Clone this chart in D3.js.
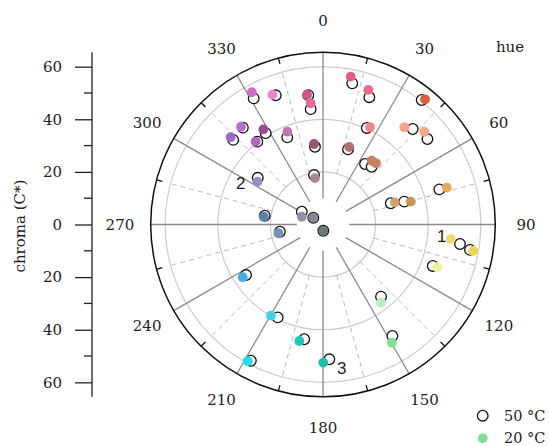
<!DOCTYPE html>
<html>
<head>
<meta charset="utf-8">
<script src="https://cdn.jsdelivr.net/npm/d3@7"></script>
<style>
  body { margin: 0; background: #fff; }
  svg { display: block; }
  text { font-family: "DejaVu Serif", serif; fill: #222; }
</style>
</head>
<body>
<svg id="chart" width="549" height="446"></svg>
<script>
// 20 °C (filled) and 50 °C (open) measurements, hue in degrees, chroma C*
var hue20    = [331.7, 338.7, 353.0, 354.2, 320.0, 313.4, 327.9, 320.9, 339.0, 353.6, 350.2, 303.1,
                10.6, 18.6, 39.2, 25.8, 39.9, 47.5, 18.7, 37.4, 40.9, 73.4, 72.9, 75.4,
                96.5, 100.0, 110.5, 277.5, 258.9, 290.1, 305.0, 177.0, 236.7, 209.7, 191.5, 208.9,
                179.9, 143.4, 149.8];
var chroma20 = [57.1, 53.0, 49.7, 46.3, 48.5, 48.3, 42.7, 40.6, 37.8, 30.8, 17.9, 29.8,
                57.2, 54.0, 61.4, 41.1, 48.2, 52.2, 31.1, 30.5, 30.8, 49.1, 28.6, 34.5,
                48.9, 58.0, 46.4, 22.7, 17.3, 8.6, 4.5, 2.4, 36.5, 39.9, 45.2, 59.3,
                52.5, 37.0, 52.0];
var hue50    = [331.2, 339.9, 353.5, 353.9, 320.4, 313.3, 327.9, 321.6, 337.7, 354.1, 349.7, 305.6,
                11.7, 20.0, 38.4, 24.4, 43.2, 50.7, 18.4, 34.8, 40.1, 73.2, 72.6, 74.3,
                98.1, 99.8, 110.7, 278.6, 260.5, 301.0, 305.0, 177.0, 236.7, 206.0, 189.3, 207.9,
                177.3, 141.2, 148.1];
var chroma50 = [54.7, 52.3, 49.5, 44.1, 47.8, 46.9, 41.0, 40.2, 35.8, 29.7, 19.1, 30.5,
                54.8, 51.5, 60.4, 40.3, 49.8, 51.3, 30.1, 28.0, 28.7, 46.2, 27.0, 32.1,
                52.6, 56.7, 44.6, 22.4, 16.6, 9.4, 4.5, 2.4, 35.0, 39.3, 44.2, 58.6,
                51.3, 35.2, 49.9];
var fills    = ["#cc6ec4", "#ec84d4", "#c8588a", "#e06c9c", "#b070cc", "#9a6ad0", "#9a4a94", "#b068bc",
                "#c474b0", "#9c5274", "#a88898", "#9a8cc8", "#e8588a", "#f06884", "#d8603c", "#e8888c",
                "#f8a284", "#f8a884", "#b86e72", "#c48068", "#c88460", "#e8a858", "#d0a070", "#c8955c",
                "#f0d878", "#e8d458", "#f0f0a0", "#5f7fa8", "#7494b4", "#9090a8", "#888890", "#6e7876",
                "#40b0e0", "#40d4e8", "#20c8b8", "#20e0f0", "#20c0a8", "#b8f0b8", "#80e098"];

var hueTicks    = d3.range(0, 360, 30);
var hueMinor    = d3.range(15, 360, 30);
var chromaRings = [20, 40, 60];
var chromaTicks = [-60, -40, -20, 0, 20, 40, 60];
var chromaMinor = [-50, -30, -10, 10, 30, 50];

var annotText   = ["1", "2", "3"];
var annotHue    = [95.9, 296.6, 172.6];
var annotChroma = [45.4, 35.0, 55.1];

var legendLabels = ["50 °C", "20 °C"];

var svg = d3.select("#chart");
var cx = 323, cy = 224.5, maxC = 65.5;

var r = d3.scaleLinear().domain([0, maxC]).range([0, 172.3]);
var rad = function(h) { return h * Math.PI / 180; };
function pos(h, c) {
  var p = d3.pointRadial(rad(h), r(c));
  return [cx + p[0], cy + p[1]];
}

var polar = svg.append("g");

// grey rings
polar.selectAll(".ring")
  .data(chromaRings)
  .enter().append("circle")
    .attr("cx", cx).attr("cy", cy)
    .attr("r", function(d) { return r(d); })
    .attr("fill", "none")
    .attr("stroke", "#cccccc")
    .attr("stroke-width", 1.2);

// dashed spokes between the main ones
polar.selectAll(".dash")
  .data(hueMinor)
  .enter().append("line")
    .attr("x1", function(d) { return pos(d, 20)[0]; })
    .attr("y1", function(d) { return pos(d, 20)[1]; })
    .attr("x2", function(d) { return pos(d, 60)[0]; })
    .attr("y2", function(d) { return pos(d, 60)[1]; })
    .attr("stroke", "#bbbbbb")
    .attr("stroke-width", 1)
    .attr("stroke-dasharray", "5,4");

// solid spokes every 30 degrees
polar.selectAll(".spoke")
  .data(hueTicks)
  .enter().append("line")
    .attr("x1", function(d) { return pos(d, 10)[0]; })
    .attr("y1", function(d) { return pos(d, 10)[1]; })
    .attr("x2", function(d) { return pos(d, maxC)[0]; })
    .attr("y2", function(d) { return pos(d, maxC)[1]; })
    .attr("stroke", "#8a8a8a")
    .attr("stroke-width", 1.3);

// outer circle with small ticks
polar.append("circle")
  .attr("cx", cx).attr("cy", cy)
  .attr("r", r(maxC))
  .attr("fill", "none")
  .attr("stroke", "#111")
  .attr("stroke-width", 1.5);

polar.selectAll(".otick")
  .data(hueMinor)
  .enter().append("line")
    .attr("x1", function(d) { return pos(d, maxC - 2.3)[0]; })
    .attr("y1", function(d) { return pos(d, maxC - 2.3)[1]; })
    .attr("x2", function(d) { return pos(d, maxC)[0]; })
    .attr("y2", function(d) { return pos(d, maxC)[1]; })
    .attr("stroke", "#111")
    .attr("stroke-width", 1.3);

// hue labels
polar.selectAll(".hlab")
  .data(hueTicks)
  .enter().append("text")
    .attr("x", function(d) { return pos(d, 77.2)[0]; })
    .attr("y", function(d) { return pos(d, 77.2)[1]; })
    .attr("text-anchor", "middle")
    .attr("dominant-baseline", "central")
    .style("font-size", "15px")
    .text(function(d) { return d; });

svg.append("text")
  .attr("x", 510).attr("y", 52)
  .attr("text-anchor", "middle")
  .style("font-size", "15px")
  .text("hue");

// points: open circles (50 °C) under filled (20 °C)
var idx = d3.range(hue20.length);

polar.selectAll(".p50")
  .data(idx)
  .enter().append("circle")
    .attr("cx", function(i) { return pos(hue50[i], chroma50[i])[0]; })
    .attr("cy", function(i) { return pos(hue50[i], chroma50[i])[1]; })
    .attr("r", 5.3)
    .attr("fill", "#fff")
    .attr("stroke", "#111")
    .attr("stroke-width", 1.3);

polar.selectAll(".p20")
  .data(idx)
  .enter().append("circle")
    .attr("cx", function(i) { return pos(hue20[i], chroma20[i])[0]; })
    .attr("cy", function(i) { return pos(hue20[i], chroma20[i])[1]; })
    .attr("r", 4.9)
    .attr("fill", function(i) { return fills[i]; });

// sample annotations
polar.selectAll(".annot")
  .data(annotText)
  .enter().append("text")
    .attr("x", function(d, i) { return pos(annotHue[i], annotChroma[i])[0]; })
    .attr("y", function(d, i) { return pos(annotHue[i], annotChroma[i])[1]; })
    .attr("text-anchor", "middle")
    .attr("dominant-baseline", "central")
    .style("font-family", "'Liberation Sans', Arial, sans-serif")
    .style("font-size", "17px")
    .text(function(d) { return d; });

// chroma axis on the left
var y = d3.scaleLinear().domain([maxC, -maxC]).range([cy - r(maxC), cy + r(maxC)]);

var axisG = svg.append("g")
  .attr("transform", "translate(92,0)")
  .call(d3.axisLeft(y)
    .tickValues(chromaTicks)
    .tickSize(17)
    .tickPadding(13)
    .tickFormat(function(d) { return Math.abs(d); }));

axisG.selectAll(".minor")
  .data(chromaMinor)
  .enter().append("line")
    .attr("x1", -8).attr("x2", 0)
    .attr("y1", function(d) { return y(d); })
    .attr("y2", function(d) { return y(d); })
    .attr("stroke", "#222")
    .attr("stroke-width", 1.3);

axisG.select(".domain").attr("stroke", "#222").attr("stroke-width", 1.3)
  .attr("d", "M0," + y(maxC) + "V" + y(-maxC));
axisG.selectAll(".tick line").attr("stroke", "#222").attr("stroke-width", 1.3);
axisG.selectAll(".tick text")
  .style("font-family", "'DejaVu Serif', serif")
  .style("font-size", "15px")
  .attr("fill", "#222");

svg.append("text")
  .attr("transform", "translate(20,226) rotate(-90)")
  .attr("text-anchor", "middle")
  .attr("dominant-baseline", "central")
  .style("font-size", "15px")
  .text("chroma (C*)");

// legend
var legend = svg.append("g");
legend.append("circle")
  .attr("cx", 482.7).attr("cy", 415.7).attr("r", 5.3)
  .attr("fill", "#fff").attr("stroke", "#111").attr("stroke-width", 1.3);
legend.append("circle")
  .attr("cx", 482.7).attr("cy", 438.3).attr("r", 4.9)
  .attr("fill", "#80e098");
legend.selectAll(".ltext")
  .data(legendLabels)
  .enter().append("text")
    .attr("x", 504)
    .attr("y", function(d, i) { return 421 + i * 22.2; })
    .style("font-size", "14.5px")
    .text(function(d) { return d; });
</script>
</body>
</html>
